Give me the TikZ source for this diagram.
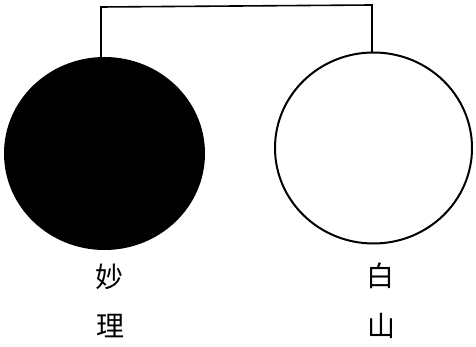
\documentclass[tikz,border=0pt]{standalone}
\usepackage{fontspec}
\newfontfamily\cjk{Noto Sans CJK SC}
\begin{document}
\begin{tikzpicture}[x=1pt,y=-1pt,
  ball/.style={draw=black,line width=2pt},
  link/.style={draw=black,line width=1.6pt},
  lbl/.style={font=\cjk\fontsize{28}{28}\selectfont,inner sep=0pt}]
\useasboundingbox (0,0) rectangle (476,347);
\fill[black] (104.5,153.5) ellipse [x radius=100.5,y radius=96.5];
\path[ball,fill=white] (373.5,148) ellipse [x radius=98.5,y radius=95.5];
\coordinate (bt) at (101,57);
\coordinate (wt) at (372,52.5);
\draw[link] (bt) -- (101,7) -- (372,5) -- (wt);
\node[lbl] (a1) at (109,277) {妙};
\node[lbl] (a2) at (110,326) {理};
\node[lbl] (b1) at (380,276) {白};
\node[lbl] (b2) at (381,326) {山};
\end{tikzpicture}
\end{document}
